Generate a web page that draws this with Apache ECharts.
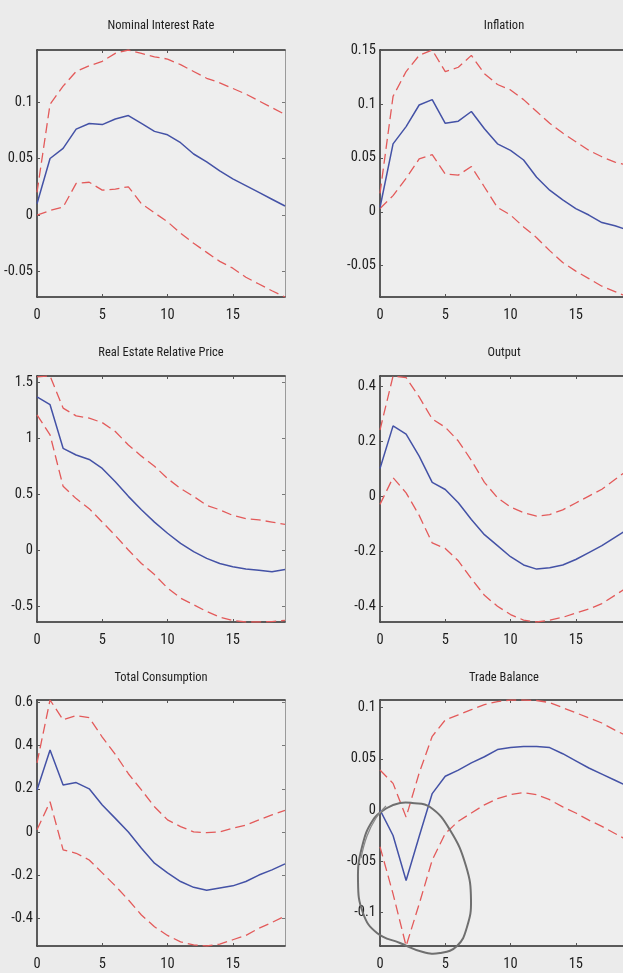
<!DOCTYPE html>
<html><head><meta charset="utf-8">
<script src="https://cdn.jsdelivr.net/npm/echarts@6/dist/echarts.min.js"></script>
<style>html,body{margin:0;padding:0;overflow:hidden;background:#ebebeb;}#c{width:640px;height:973px;}</style>
</head><body><div id="c"></div>
<script>
// ---- data ----
const periods = [0,1,2,3,4,5,6,7,8,9,10,11,12,13,14,15,16,17,18,19];
const xTicks = [0,5,10,15];
const titles = ['Nominal Interest Rate','Inflation','Real Estate Relative Price','Output','Total Consumption','Trade Balance'];

const rateMid = [0.010,0.050,0.059,0.076,0.081,0.080,0.085,0.088,0.081,0.074,0.071,0.064,0.054,0.047,0.039,0.032,0.026,0.020,0.014,0.008];
const rateUp  = [0.020,0.098,0.114,0.127,0.132,0.136,0.143,0.146,0.143,0.140,0.138,0.133,0.127,0.121,0.117,0.112,0.107,0.101,0.095,0.089];
const rateLo  = [0.000,0.004,0.007,0.028,0.029,0.022,0.023,0.025,0.010,0.002,-0.006,-0.016,-0.025,-0.033,-0.041,-0.047,-0.055,-0.061,-0.067,-0.0725];

const inflMid = [0.004,0.063,0.079,0.099,0.104,0.082,0.084,0.093,0.077,0.063,0.057,0.048,0.032,0.020,0.011,0.003,-0.003,-0.010,-0.013,-0.017];
const inflUp  = [0.017,0.107,0.130,0.145,0.150,0.130,0.134,0.145,0.128,0.118,0.113,0.104,0.093,0.082,0.073,0.065,0.057,0.051,0.046,0.043];
const inflLo  = [0.003,0.015,0.031,0.049,0.053,0.035,0.034,0.042,0.023,0.004,-0.003,-0.014,-0.024,-0.036,-0.047,-0.055,-0.062,-0.069,-0.074,-0.079];

const housMid = [1.37,1.30,0.91,0.85,0.81,0.73,0.61,0.48,0.36,0.25,0.15,0.06,-0.015,-0.075,-0.12,-0.15,-0.17,-0.18,-0.195,-0.175];
const housUp  = [1.55,1.557,1.27,1.20,1.18,1.14,1.06,0.94,0.84,0.75,0.64,0.55,0.48,0.40,0.36,0.31,0.28,0.27,0.25,0.23];
const housLo  = [1.21,1.03,0.57,0.46,0.37,0.25,0.13,0.0,-0.12,-0.22,-0.34,-0.43,-0.49,-0.55,-0.60,-0.63,-0.644,-0.644,-0.64,-0.63];

const outMid = [0.10,0.255,0.225,0.145,0.05,0.024,-0.024,-0.085,-0.14,-0.18,-0.22,-0.25,-0.265,-0.26,-0.25,-0.23,-0.205,-0.18,-0.15,-0.12];
const outUp  = [0.24,0.436,0.43,0.36,0.28,0.25,0.20,0.13,0.05,-0.006,-0.04,-0.06,-0.073,-0.067,-0.05,-0.025,0.0,0.025,0.06,0.095];
const outLo  = [-0.03,0.067,0.012,-0.07,-0.17,-0.19,-0.235,-0.30,-0.36,-0.40,-0.43,-0.45,-0.457,-0.45,-0.44,-0.425,-0.41,-0.39,-0.36,-0.33];

const consMid = [0.195,0.38,0.218,0.229,0.20,0.125,0.063,0.0,-0.076,-0.145,-0.19,-0.23,-0.257,-0.27,-0.26,-0.25,-0.23,-0.20,-0.176,-0.148];
const consUp  = [0.32,0.612,0.52,0.54,0.53,0.44,0.36,0.27,0.195,0.117,0.056,0.025,0.0,-0.003,0.0,0.017,0.032,0.056,0.079,0.10];
const consLo  = [0.01,0.14,-0.083,-0.099,-0.13,-0.19,-0.25,-0.315,-0.385,-0.44,-0.48,-0.51,-0.524,-0.529,-0.52,-0.50,-0.48,-0.447,-0.42,-0.39];

const tradeMid = [0.0,-0.025,-0.069,-0.026,0.016,0.033,0.039,0.046,0.052,0.059,0.061,0.062,0.062,0.061,0.055,0.048,0.041,0.035,0.029,0.023];
const tradeUp  = [0.039,0.026,-0.007,0.036,0.072,0.088,0.093,0.098,0.103,0.106,0.1075,0.1075,0.107,0.105,0.100,0.095,0.090,0.085,0.078,0.072];
const tradeLo  = [-0.036,-0.082,-0.133,-0.092,-0.049,-0.023,-0.011,-0.003,0.005,0.011,0.015,0.017,0.015,0.010,0.003,-0.003,-0.010,-0.016,-0.023,-0.030];

const yMins = [-0.0725,-0.079,-0.644,-0.457,-0.529,-0.133];
const yMaxs = [0.146,0.150,1.557,0.436,0.612,0.1075];
const yTicks = [
  [-0.05,0,0.05,0.1],
  [-0.05,0,0.05,0.1,0.15],
  [-0.5,0,0.5,1,1.5],
  [-0.4,-0.2,0,0.2,0.4],
  [-0.4,-0.2,0,0.2,0.4,0.6],
  [-0.1,-0.05,0,0.05,0.1]
];
const panels = [
  [rateMid,rateUp,rateLo],[inflMid,inflUp,inflLo],[housMid,housUp,housLo],
  [outMid,outUp,outLo],[consMid,consUp,consLo],[tradeMid,tradeUp,tradeLo]
];

// ---- layout / style ----
const FONT = "'Roboto Condensed','Liberation Sans',sans-serif";
const colLeft = [37, 380], colW = 248;
const rowTop = [50, 376, 700], rowH = [247, 246, 246];
const titleY = [26, 353, 677.5];
const BLUE = '#4452a6', RED = '#e35a5a', AX = '#2a2a2a';

const grids=[], xAxes=[], yAxes=[], series=[], graphics=[];
panels.forEach((p,i)=>{
  const c=i%2, r=Math.floor(i/2);
  grids.push({left:colLeft[c], top:rowTop[r], width:colW, height:rowH[r], show:true, backgroundColor:'#eeeeee', borderWidth:0});
  const common = {gridIndex:i, type:'value', min:0, max:19, splitLine:{show:false}};
  xAxes.push(Object.assign({}, common, {position:'bottom',
    axisLine:{show:true, onZero:false, lineStyle:{color:AX, width:1.5}},
    axisTick:{show:true, inside:true, length:3, customValues:xTicks, lineStyle:{color:'#555'}},
    axisLabel:{show:true, customValues:xTicks, margin:11, fontFamily:FONT, fontSize:14.5, color:'#1e1e1e'}}));
  xAxes.push(Object.assign({}, common, {position:'top',
    axisLine:{show:true, onZero:false, lineStyle:{color:AX, width:1.5}},
    axisTick:{show:true, inside:true, length:3, customValues:xTicks, lineStyle:{color:'#555'}},
    axisLabel:{show:false}}));
  const yc = {gridIndex:i, type:'value', min:yMins[i], max:yMaxs[i], splitLine:{show:false}};
  yAxes.push(Object.assign({}, yc, {position:'left',
    axisLine:{show:true, onZero:false, lineStyle:{color:AX, width:1.5}},
    axisTick:{show:true, inside:true, length:3, customValues:yTicks[i], lineStyle:{color:'#555'}},
    axisLabel:{show:true, customValues:yTicks[i], margin:4, fontFamily:FONT, fontSize:14.5, color:'#1e1e1e',
      formatter:v=>String(v)}}));
  yAxes.push(Object.assign({}, yc, {position:'right',
    axisLine:{show:true, onZero:false, lineStyle:{color:'#9a9a9a', width:1}},
    axisTick:{show:true, inside:true, length:3, customValues:yTicks[i], lineStyle:{color:'#777'}},
    axisLabel:{show:false}}));
  const mk=(arr,col,dash,w)=>({type:'line', xAxisIndex:2*i, yAxisIndex:2*i, data:periods.map((t,k)=>[t,arr[k]]),
    symbol:'none', showSymbol:false, silent:true, animation:false, clip:true,
    lineStyle:{color:col, width:w, type:dash?[10,5]:'solid'}});
  series.push(mk(p[1],RED,true,1.3), mk(p[2],RED,true,1.3), mk(p[0],BLUE,false,1.5));
  graphics.push({type:'text', x:colLeft[c]+colW/2, y:titleY[r], silent:true,
    style:{text:titles[i], align:'center', verticalAlign:'middle', fontFamily:FONT, fontSize:12.5, fill:'#1e1e1e'}});
});
// hand-drawn circle annotation (bottom-right panel)
graphics.push({type:'polygon', silent:true, z:100,
  shape:{smooth:0.45, points:[[412,803],[430,807],[450,830],[466,866],[471,900],[467,927],[457,946],[440,953],[423,952],[400,943],[377,933],[363,913],[358,880],[362,847],[373,820],[387,808],[400,803]]},
  style:{fill:null, stroke:'#6f6f6f', lineWidth:2}});
graphics.push({type:'polyline', silent:true, z:100,
  shape:{smooth:0.4, points:[[386,806],[376,818],[367,836],[361,858]]},
  style:{fill:null, stroke:'#8a8a8a', lineWidth:1.3}});

const chart = echarts.init(document.getElementById('c'), null, {renderer:'canvas'});
chart.setOption({backgroundColor:'#ebebeb', animation:false, grid:grids, xAxis:xAxes, yAxis:yAxes, series:series, graphic:graphics});
</script></body></html>
